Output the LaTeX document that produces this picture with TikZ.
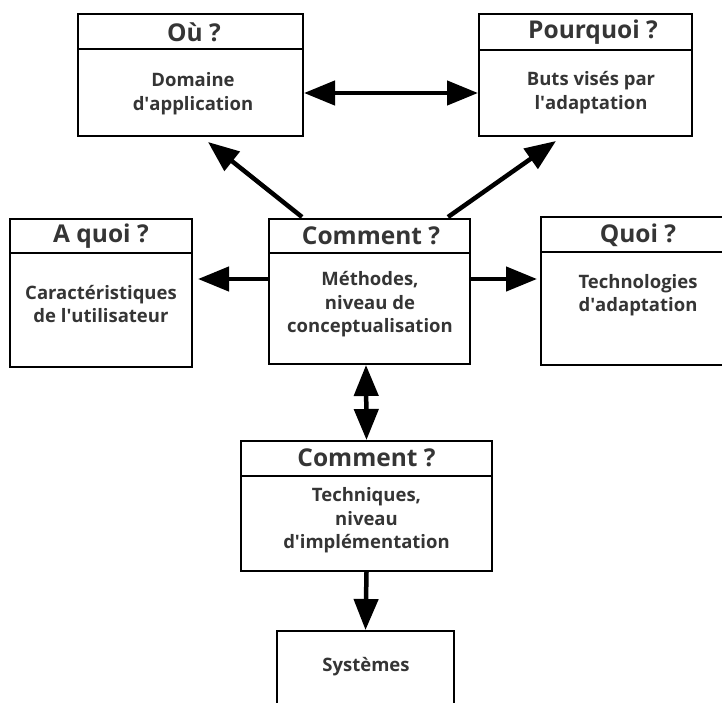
\documentclass[tikz,border=0pt]{standalone}
\usepackage{fontspec}
\setmainfont{Open Sans}
\usetikzlibrary{arrows.meta,calc}
\definecolor{txt}{HTML}{353535}
\newcommand{\ap}{\textquotesingle}
\tikzset{
  box/.style={draw=black, line width=2pt, inner sep=0pt, fill=white},
  divider/.style={draw=black, line width=2pt},
  ttl/.style={text=txt, font=\bfseries\fontsize{24.5}{28}\selectfont, inner sep=0pt},
  bdy/.style={text=txt, font=\bfseries\fontsize{18.5}{23.5}\selectfont, align=center, inner sep=0pt},
  arr/.style={line width=4.5pt, -{Triangle[length=31pt,width=24pt]}},
  darr/.style={line width=4.5pt, {Triangle[length=31pt,width=24pt]}-{Triangle[length=31pt,width=24pt]}}
}
\begin{document}
\begin{tikzpicture}[x=1pt,y=-1pt]
\useasboundingbox (0,0) rectangle (722,702);
\fill[white] (0,0) rectangle (722,702);
\clip (0,0) rectangle (722,702);

% boxes
\node[box, minimum width=225pt, minimum height=122pt] (ou) at (190.5,75) {};
\node[box, minimum width=213pt, minimum height=122pt] (pq) at (585.5,75) {};
\node[box, minimum width=182pt, minimum height=148pt] (aq) at (101,293) {};
\node[box, minimum width=201pt, minimum height=145pt] (cm) at (369.5,291.5) {};
\node[box, minimum width=182pt, minimum height=148pt] (qu) at (632,291) {};
\node[box, minimum width=251pt, minimum height=130pt] (ci) at (366.5,506) {};
\node[box, minimum width=177pt, minimum height=90pt] (sy) at (365.5,676) {};

% dividers
\draw[divider] (ou.west |- 0,49) -- (ou.east |- 0,49);
\draw[divider] (pq.west |- 0,50) -- (pq.east |- 0,50);
\draw[divider] (aq.west |- 0,253) -- (aq.east |- 0,253);
\draw[divider] (cm.west |- 0,253) -- (cm.east |- 0,253);
\draw[divider] (qu.west |- 0,252) -- (qu.east |- 0,252);
\draw[divider] (ci.west |- 0,476) -- (ci.east |- 0,476);

% titles
\node[ttl] (ouT) at (194,32) {Où ?};
\node[ttl] (pqT) at (593,32) {Pourquoi ?};
\node[ttl] (aqT) at (101,236) {A quoi ?};
\node[ttl] (cmT) at (371,236) {Comment ?};
\node[ttl] (quT) at (638,235) {Quoi ?};
\node[ttl] (ciT) at (366.5,458) {Comment ?};

% bodies
\node[bdy] (ouB) at (193,93.5) {Domaine\\d\ap application};
\node[bdy] (pqB) at (591,92.5) {Buts visés par\\l\ap adaptation};
\node[bdy] (aqB) at (101,304) {Caractéristiques\\de l\ap utilisateur};
\node[bdy] (cmB) at (370,304.5) {Méthodes,\\niveau de\\conceptualisation};
\node[bdy] (quB) at (638,295) {Technologies\\d\ap adaptation};
\node[bdy] (ciB) at (366.5,520.5) {Techniques,\\niveau\\d\ap implémentation};
\node[bdy] (syB) at (366,667) {Systèmes};

% connectors
\draw[darr] ($(ou.east)+(0,18)$) -- ($(pq.west)+(0,18)$);
\draw[arr] ($(cm.north)+(-67.5,-1)$) -- ($(ou.south)+(17.5,5)$);
\draw[arr] ($(cm.north)+(78.5,-1)$) -- ($(pq.south)+(-29.5,4)$);
\draw[arr] ($(cm.west)+(0,-12.5)$) -- ($(aq.east)+(5,-14)$);
\draw[arr] ($(cm.east)+(0,-12.5)$) -- ($(qu.west)+(-3,-12)$);
\draw[darr] ($(cm.south)+(-3.5,0)$) -- (ci.north);
\draw[arr] (ci.south) -- (sy.north);
\end{tikzpicture}
\end{document}
